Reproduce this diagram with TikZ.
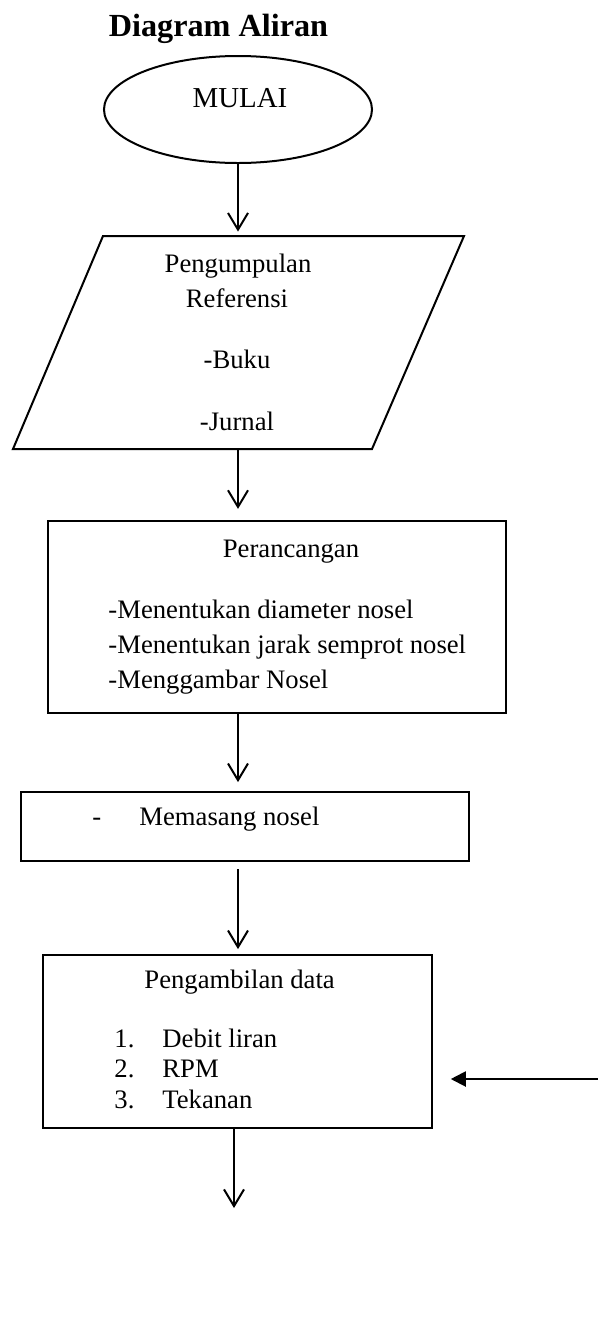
\documentclass[tikz,border=0pt]{standalone}
\usepackage{fontspec}
\setmainfont{Liberation Serif}
\usetikzlibrary{arrows.meta,shapes.geometric}
\begin{document}
\begin{tikzpicture}[x=0.45pt,y=-0.45pt,
  box/.style={draw,line width=0.9pt,inner sep=0pt},
  txt/.style={inner sep=0pt,font=\fontsize{12}{14}\selectfont},
  arr/.style={line width=0.9pt,-{Straight Barb[length=7.5pt,width=9pt]}},
  farr/.style={line width=0.9pt,-{Triangle[length=6.8pt,width=6.8pt]}}]
\useasboundingbox (0,0) rectangle (598,1325);
\coordinate (col) at (238,0);
% title
\node[txt,anchor=base,font=\fontsize{14.5}{16}\selectfont\bfseries] (title) at (218.5,36) {Diagram Aliran};
% start ellipse
\node[box,ellipse,minimum width=120.6pt,minimum height=48.15pt] (start) at (238,109.5) {};
\node[txt,anchor=base,font=\fontsize{13}{15}\selectfont] (tstart) at (240,107) {MULAI};
% parallelogram
\node[inner sep=0pt,minimum width=0pt,minimum height=95.85pt] (para) at (238,342.5) {};
\draw[line width=0.9pt,line join=miter] (103,236) -- (464,236) -- (372,449) -- (13,449) -- cycle;
\node[txt,anchor=base] (p1) at (238,272) {Pengumpulan};
\node[txt,anchor=base] (p2) at (237,307) {Referensi};
\node[txt,anchor=base] (p3) at (237,368) {-Buku};
\node[txt,anchor=base] (p4) at (237,430) {-Jurnal};
% perancangan
\node[box,minimum width=206.1pt,minimum height=86.4pt] (r2) at (277,617) {};
\node[txt,anchor=base] (r2t) at (291,557) {Perancangan};
\node[txt,anchor=base west] (r2a) at (108,618) {-Menentukan diameter nosel};
\node[txt,anchor=base west] (r2b) at (108,653) {-Menentukan jarak semprot nosel};
\node[txt,anchor=base west] (r2c) at (108,688) {-Menggambar Nosel};
% memasang
\node[box,minimum width=201.6pt,minimum height=31.05pt] (r3) at (245,826.5) {};
\node[txt,anchor=base west] (r3d) at (92,825) {-};
\node[txt,anchor=base west] (r3t) at (139,825) {Memasang nosel};
% pengambilan data
\node[box,minimum width=175.05pt,minimum height=77.85pt] (r4) at (237.5,1041.5) {};
\node[txt,anchor=base west] (r4t) at (144,988) {Pengambilan data};
\node[txt,anchor=base west] (n1) at (114,1047) {1.};
\node[txt,anchor=base west] (i1) at (162,1047) {Debit liran};
\node[txt,anchor=base west] (n2) at (114,1077) {2.};
\node[txt,anchor=base west] (i2) at (162,1077) {RPM};
\node[txt,anchor=base west] (n3) at (114,1108) {3.};
\node[txt,anchor=base west] (i3) at (162,1108) {Tekanan};
% connectors
\coordinate (fb) at (598,1079);
\coordinate (endb) at (234,1208);
\draw[arr,shorten >=1.8pt] (col |- start.south) -- (col |- para.north);
\draw[arr,shorten >=5pt] (col |- para.south) -- (col |- r2.north);
\draw[arr,shorten >=4pt] (col |- r2.south) -- (col |- r3.north);
\draw[arr,shorten <=3.2pt,shorten >=2.2pt] (col |- r3.south) -- (col |- r4.north);
\draw[arr] (endb |- r4.south) -- (endb);
\draw[farr,shorten >=8pt] (fb) -- (fb -| r4.east);
\end{tikzpicture}
\end{document}
